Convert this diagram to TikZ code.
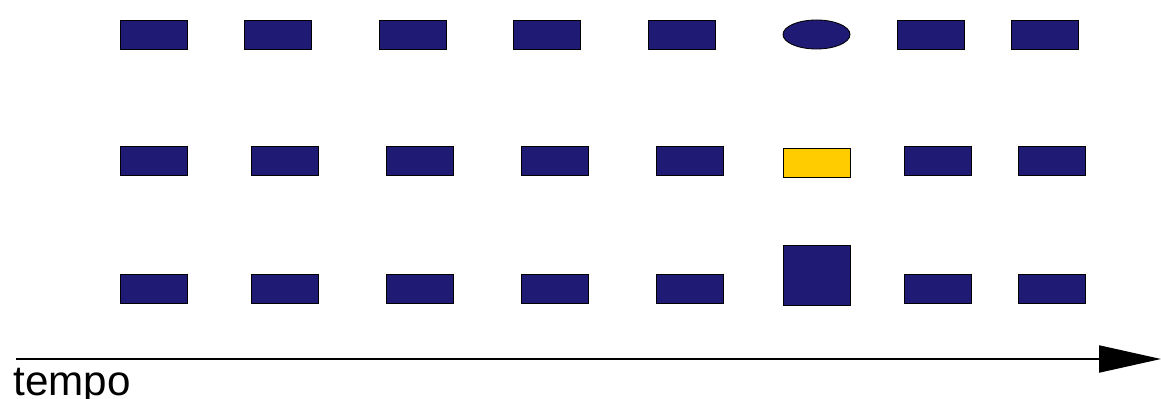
\documentclass[tikz,border=0pt]{standalone}
\usepackage{fontspec}
\setmainfont{Liberation Sans}
\usetikzlibrary{arrows.meta,shapes.geometric}

\definecolor{navy}{RGB}{31,27,117}
\definecolor{gold}{RGB}{255,204,0}

\tikzset{
    slot/.style={draw=black,fill=navy,line width=0.6pt,inner sep=0pt,
        minimum width=1.675cm,minimum height=0.725cm},
    oddslot/.style={slot,fill=gold},
    bigslot/.style={slot,minimum height=1.5cm},
    roundslot/.style={slot,ellipse}
}

\begin{document}
\begin{tikzpicture}[x=0.025cm,y=-0.025cm,>={Triangle[length=1.55cm,width=0.675cm]}]
    \useasboundingbox (0,0) rectangle (1161,399);

    % upper row
    \node[slot] (a1) at (153.5,34.5) {};
    \node[slot] (a2) at (277.5,34.5) {};
    \node[slot] (a3) at (412.5,34.5) {};
    \node[slot] (a4) at (546.5,34.5) {};
    \node[slot] (a5) at (681.5,34.5) {};
    \node[roundslot] (a6) at (816.5,34.5) {};
    \node[slot] (a7) at (930.5,34.5) {};
    \node[slot] (a8) at (1044.5,34.5) {};

    % middle row
    \node[slot] (b1) at (153.5,160.5) {};
    \node[slot] (b2) at (284.5,160.5) {};
    \node[slot] (b3) at (419.5,160.5) {};
    \node[slot] (b4) at (554.5,160.5) {};
    \node[slot] (b5) at (689.5,160.5) {};
    \node[oddslot] (b6) at (816.5,162.5) {};
    \node[slot] (b7) at (937.5,160.5) {};
    \node[slot] (b8) at (1051.5,160.5) {};

    % lower row
    \node[slot] (c1) at (153.5,289) {};
    \node[slot] (c2) at (284.5,289) {};
    \node[slot] (c3) at (419.5,289) {};
    \node[slot] (c4) at (554.5,289) {};
    \node[slot] (c5) at (689.5,289) {};
    \node[bigslot] (c6) at (816.5,275) {};
    \node[slot] (c7) at (937.5,289) {};
    \node[slot] (c8) at (1051.5,289) {};

    % time axis
    \coordinate (T0) at (16,359);
    \coordinate (T1) at (1161,359);
    \draw[line width=1.5pt,->] (T0) -- (T1);
    \node[anchor=base west,inner sep=0pt,font=\fontsize{30}{36}\selectfont] (tempo) at (13,395) {tempo};
\end{tikzpicture}
\end{document}
